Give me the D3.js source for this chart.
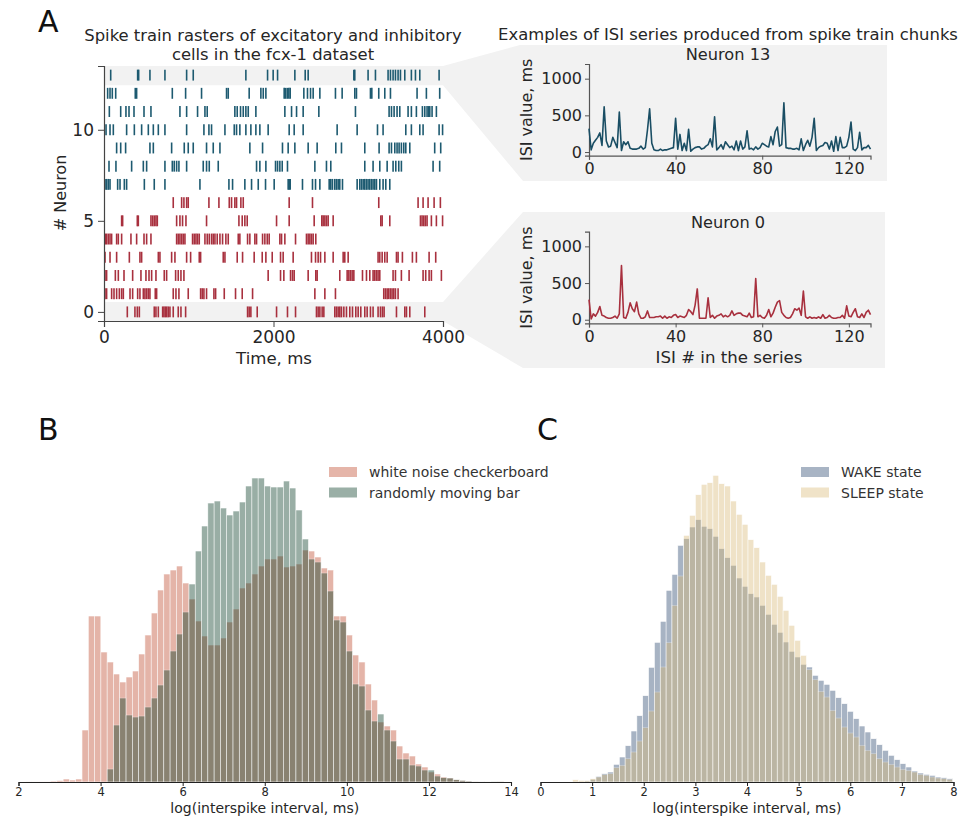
<!DOCTYPE html>
<html>
<head>
<meta charset="utf-8">
<script src="https://cdn.jsdelivr.net/npm/d3@7"></script>
<style>
  body { margin: 0; background: #fff; }
  svg { display: block; font-family: "DejaVu Sans", sans-serif; }
</style>
</head>
<body>
<div id="chart"></div>
<script>
// ---- Panel A: spike times (ms) per neuron, 0..13 ----
const spikesN0 = [275,365,393,417,593,613,641,692,707,723,739,758,778,817,876,908,963,1694,1713,1733,1808,2036,2165,2260,2507,2527,2547,2574,2594,2723,2743,2763,2782,2802,2830,2861,2900,2932,2971,2999,3030,3077,3105,3144,3175,3234,3262,3285,3305,3451,3549,3569,3608,3785];
const spikesN1 = [12,31,90,118,149,181,208,228,307,338,397,424,464,483,503,523,542,605,621,817,849,884,994,1140,1159,1179,1210,1297,1317,1419,1552,1631,1753,2488,2606,2731,3301,3321,3341,3360,3380,3399,3419,3439,3470];
const spikesN2 = [12,31,134,169,236,338,436,495,531,562,613,711,739,845,876,908,943,1937,2083,2122,2201,2224,2244,2409,2499,2515,2782,2869,2889,2908,2928,2948,3050,3097,3136,3175,3195,3215,3234,3254,3411,3439,3509,3600,3765,3796,3836,3863,3981];
const spikesN3 = [12,71,149,299,424,444,641,660,798,837,975,1022,1124,1140,1407,1427,1572,1635,1772,1867,1910,1985,2083,2114,2232,2448,2496,2527,2555,2606,2704,2822,2841,2881,3234,3254,3282,3313,3341,3451,3470,3521,3639,3686,3836,3914];
const spikesN4 = [16,31,51,71,90,149,169,208,318,385,472,503,554,857,876,896,916,935,955,1045,1065,1085,1104,1124,1191,1218,1242,1269,1289,1309,1336,1368,1399,1438,1466,1584,1603,1694,1721,1780,1800,1871,1898,1926,1949,2075,2095,2134,2260,2389,2409,2429,2448,2468,2499];
const spikesN5 = [208,220,393,405,554,574,593,613,629,857,896,927,967,1210,1592,1631,1662,1690,2036,2185,2480,2570,2586,2606,2625,2645,2704,3266,3282,3372,3734,3753,3773,3792,3812,3863,3922,3995];
const spikesN6 = [817,916,943,975,994,1238,1356,1478,1505,1544,1564,1615,1643,2185,2460,3242,3706,3765,3824,3895,3969];
const spikesN7 = [12,31,51,71,161,189,240,267,476,593,719,1132,1474,1517,1662,1741,1820,1906,2008,2173,2185,2197,2342,2460,2496,2547,2657,2676,2696,2723,2743,2763,2782,2814,2987,3018,3038,3058,3077,3097,3116,3136,3156,3175,3195,3215,3254,3293,3325,3372];
const spikesN8 = [59,141,326,464,503,719,806,829,857,884,975,1171,1210,1242,1348,1800,1839,1910,2024,2048,2075,2103,2165,2488,2625,2676,3077,3175,3254,3341,3411,3443,3478,3509,3883,3961];
const spikesN9 = [149,197,255,542,582,798,947,994,1053,1210,1289,1368,1721,1871,2106,2173,2252,2409,2515,2735,2802,3077,3246,3364,3392,3431,3458,3482,3509,3537,3561,3608,3902,3973];
const spikesN10 = [24,71,110,267,358,444,523,582,641,719,975,1179,1238,1269,1427,1537,1564,1603,1674,1733,1792,1839,1937,2185,2244,2350,2751,2987,3227,3293,3561,3627,3726,3765,3954,3995];
const spikesN11 = [63,197,259,295,354,472,554,896,975,1104,1191,1218,1544,1572,1611,1643,1674,1702,1792,2134,2213,2272,2350,2535,2967,3364,3392,3423,3458,3490,3588,3627,3686,3757,3785,3812,3832,3844,3871,3922];
const spikesN12 = [43,71,98,138,369,385,806,963,1151,1446,1466,1713,1851,1879,1910,2126,2142,2162,2181,2197,2358,2401,2437,2468,2547,2731,2810,2959,2979,3144,3160,3242,3313,3380,3694,3804,3961];
const spikesN13 = [79,397,409,542,719,975,1053,1674,1930,1996,2048,2252,2374,2409,2948,2959,3116,3203,3352,3380,3411,3439,3470,3498,3549,3627,3675,3726,3954];
const rasterRows = [spikesN0, spikesN1, spikesN2, spikesN3, spikesN4, spikesN5, spikesN6,
                    spikesN7, spikesN8, spikesN9, spikesN10, spikesN11, spikesN12, spikesN13];
const rasterTicksX = [0, 2000, 4000];
const rasterTicksY = [0, 5, 10];

// ---- ISI series (ms), index 0..130 ----
const isiNeuron13 = [320,30,120,160,200,260,90,615,150,70, 80,200,130,60,545,20,140,100,140,50,
  40,40,40,50,80,40,60,300,590,120, 30,20,20,40,20,30,30,40,50,60, 460,40,240,20,120,20,310,10,40,60,
  70,70,40,50,80,100,180,70,480,30, 60,100,40,140,100,60,80,30,150,20, 150,40,70,290,40,50,30,70,40,60,
  120,100,80,70,210,100,280,340,80,100, 670,60,50,50,40,40,50,30,180,20, 100,160,80,200,460,20,60,80,90,130,
  120,40,150,10,210,20,200,60,60,80, 200,410,40,20,60,270,30,60,60,90, 40];
const isiNeuron0 = [275,10,80,50,100,180,60,50,30,20, 20,30,50,20,80,740,30,20,100,230,
  150,110,240,80,20,20,40,120,30,30, 30,40,40,50,20,50,20,40,30,60, 70,30,50,40,30,60,140,110,70,200,
  420,20,20,20,20,300,30,60,20,50, 60,80,40,60,40,60,120,60,80,90, 90,60,50,40,90,30,40,560,40,60,
  30,20,60,140,40,90,170,240,260,100, 60,30,20,30,80,150,130,160,60,390, 40,20,40,20,30,20,40,20,70,20,
  30,60,30,20,20,30,30,60,20,190, 50,40,100,150,40,30,80,30,100,130, 70];
const isiTicksX = [0, 40, 80, 120];
const isiTicksY = [0, 500, 1000];

// ---- Panel B: log-ISI histograms (a.u.), shared bins ----
const bBinStart = 2.167, bBinWidth = 0.1533;
const whiteNoiseCheckerboard = [0.5,0.5,0.7,0.7,1,1.5,3,2,3,
  52,166,166,130,120,108,100,105,111,128, 147,169,192,208,212,216,199,183,161,146,
  137,137,144,160,173,194,199,208,216,223, 223,226,215,216,218,232,231,225,214,212,
  166,166,147,127,120,98,82,60,56,52, 36,29,26,18,15,10,8,5,4,2.3, 1.7,1,0.8,0.6,0.5,0.4,0.3];
const randomlyMovingBar = [0,0,0,0,0,0,0,0,0,0,0,0,0,
  13,57,84,67,65,66, 75,84,97,112,131,148,170,198,231,256,
  279,281,274,267,271,280,296,304,304,296, 295,295,301,294,272,243,223,220,209,191,
  162,160,131,98,96,72,61,68,52,41, 23,23,17,16,12,12,6,4.3,4,2.3, 1.7,1,0.7,0.5,0.4,0.3,0.2];
const bTicks = [2, 4, 6, 8, 10, 12, 14];

// ---- Panel C: log-ISI histograms (a.u.), shared bins ----
const cBinStart = 0.62, cBinWidth = 0.1133;
const wakeState = [0.5,0.7,1,2.7,5.7,8.3,10,17.7,25,36.3, 51,66.3,86.3,114.7,139.7,160.7,191.7,207.7,236.7,243.3,
  255,262.3,255.7,253.3,245.7,233.3,224.3,216.7,204,195.7, 188.3,185,176.7,167.7,157.7,149.7,140,130.7,125,117.7,
  115,106.7,101.7,97.7,91.7,84.3,78.3,70.7,63.3,56, 50,43.3,37.3,31.7,26.7,22.3,18.3,15,11,9, 7.7,6.7,5,4.3,3.3];
const sleepState = [2.3,1.7,1.7,3.3,5,7.3,8.3,14.3,16.7,23.3, 30,41,54.3,71,90,115,139.3,176.7,206,246.7,
  266.7,287.3,297.7,299.3,306.7,298.3,296,281,267.7,257.7, 242.3,234.3,220,206.7,197.7,185.7,171.7,156.7,141.7,126.7,
  112.3,102.3,90.7,85,71.7,64,55,49,45,36.7, 31.7,28.3,23.3,20,17.7,15,12.7,11.7,10,7.7, 6.7,5,4,3.3,2.7];
const cTicks = [0, 1, 2, 3, 4, 5, 6, 7, 8];

// colours
const teal = "#1d5a70", red = "#a8303e", panelGray = "#f2f2f2", textCol = "#262626";
const fmt = d3.format("d");

const svg = d3.select("#chart").append("svg").attr("width", 973).attr("height", 821);

// ================= Panel A =================
const xR = d3.scaleLinear().domain([0, 4000]).range([104, 443]);
const yR = d3.scaleLinear().domain([-0.5, 13.5]).range([321, 66]);

// highlight bands + connectors to the ISI panels
const bandTop = [[xR(0), yR(13.5)], [xR(4000), yR(13.5)], [520, 45], [887, 45], [887, 181], [523, 181], [xR(4000), yR(12.45)], [xR(0), yR(12.45)]];
const bandBot = [[xR(0), yR(0.55)], [xR(4000), yR(0.55)], [523, 212], [885, 212], [885, 368], [523, 368], [xR(4000), yR(-0.5)], [xR(0), yR(-0.5)]];
svg.selectAll(".band").data([bandTop, bandBot]).enter().append("polygon")
  .attr("points", d => d.map(p => p.join(",")).join(" "))
  .attr("fill", panelGray);

svg.append("text").attr("x", 38).attr("y", 32).attr("font-size", 30).attr("fill", "#111").text("A");
svg.append("text").attr("x", 273).attr("y", 41).attr("text-anchor", "middle").attr("font-size", 16.4)
  .attr("fill", textCol).text("Spike train rasters of excitatory and inhibitory");
svg.append("text").attr("x", 273).attr("y", 59.5).attr("text-anchor", "middle").attr("font-size", 16.4)
  .attr("fill", textCol).text("cells in the fcx-1 dataset");

const raster = svg.append("g");
rasterRows.forEach((row, n) => {
  raster.append("g").selectAll("line").data(row).enter().append("line")
    .attr("x1", d => xR(d)).attr("x2", d => xR(d))
    .attr("y1", yR(n + 0.3)).attr("y2", yR(n - 0.3))
    .attr("stroke", n >= 7 ? teal : red)
    .attr("stroke-width", 1.6);
});

const axR_x = svg.append("g").attr("transform", `translate(0,${yR(-0.5)})`)
  .call(d3.axisBottom(xR).tickValues(rasterTicksX).tickFormat(fmt).tickSizeOuter(0).tickSize(6).tickPadding(4));
const axR_y = svg.append("g").attr("transform", `translate(${xR(0)},0)`)
  .call(d3.axisLeft(yR).tickValues(rasterTicksY).tickFormat(fmt).tickSizeOuter(0).tickSize(6).tickPadding(4));
[axR_x, axR_y].forEach(a => {
  a.select(".domain").attr("stroke", "#444").attr("stroke-width", 1.2);
  a.selectAll(".tick line").attr("stroke", "#444");
  a.selectAll("text").attr("font-size", 17).attr("fill", textCol).attr("font-family", "DejaVu Sans");
});
svg.append("text").attr("x", 274).attr("y", 364).attr("text-anchor", "middle").attr("font-size", 16.6)
  .attr("fill", textCol).text("Time, ms");
svg.append("text").attr("transform", "translate(66,193) rotate(-90)").attr("text-anchor", "middle")
  .attr("font-size", 16).attr("fill", textCol).text("# Neuron");

// ISI series panels
svg.append("text").attr("x", 728).attr("y", 40).attr("text-anchor", "middle").attr("font-size", 16.4)
  .attr("fill", textCol).text("Examples of ISI series produced from spike train chunks");

function isiPanel(series, color, yZero, title, titleY) {
  const x = d3.scaleLinear().domain([0, 130]).range([589, 870.5]);
  const y = d3.scaleLinear().domain([-50, 1200]).range([yZero + 3.7, yZero + 3.7 - 91.7]);
  const g = svg.append("g");
  g.append("text").attr("x", 728).attr("y", titleY).attr("text-anchor", "middle").attr("font-size", 16.2)
    .attr("fill", textCol).text(title);
  const ax = g.append("g").attr("transform", `translate(0,${y(-50)})`)
    .call(d3.axisBottom(x).tickValues(isiTicksX).tickFormat(fmt).tickSizeOuter(0).tickSize(4).tickPadding(3));
  const ay = g.append("g").attr("transform", `translate(${x(0)},0)`)
    .call(d3.axisLeft(y).tickValues(isiTicksY).tickFormat(fmt).tickSizeOuter(0).tickSize(4).tickPadding(3));
  [ax, ay].forEach(a => {
    a.select(".domain").attr("stroke", "#555").attr("stroke-width", 1.2);
    a.selectAll(".tick line").attr("stroke", "#555");
    a.selectAll("text").attr("font-size", 16).attr("fill", textCol).attr("font-family", "DejaVu Sans");
  });
  g.append("text").attr("transform", `translate(532,${y(575)}) rotate(-90)`).attr("text-anchor", "middle")
    .attr("font-size", 16).attr("fill", textCol).text("ISI value, ms");
  const line = d3.line().x((d, i) => x(i)).y(d => y(d));
  g.append("path").datum(series).attr("d", line).attr("fill", "none")
    .attr("stroke", color).attr("stroke-width", 1.6).attr("stroke-linejoin", "round");
}
isiPanel(isiNeuron13, "#1a4e64", 152, "Neuron 13", 59.5);
isiPanel(isiNeuron0, red, 319.7, "Neuron 0", 227.5);
svg.append("text").attr("x", 729).attr("y", 363).attr("text-anchor", "middle")
  .attr("font-size", 16.6).attr("fill", textCol).text("ISI # in the series");

// ================= Histograms =================
function histPanel(opts) {
  const x = d3.scaleLinear().domain(opts.domain).range(opts.range);
  const y = d3.scaleLinear().domain([0, 320]).range([782, 462]);
  const g = svg.append("g");
  opts.series.forEach(s => {
    g.append("g").selectAll("rect").data(s.values).enter().append("rect")
      .attr("x", (d, i) => x(opts.start + i * opts.width))
      .attr("width", (d, i) => x(opts.start + (i + 1) * opts.width) - x(opts.start + i * opts.width))
      .attr("y", d => y(d))
      .attr("height", d => y(0) - y(d))
      .attr("fill", s.color)
      .attr("stroke", "#ffffff").attr("stroke-width", 0.6)
      .attr("opacity", s.alpha);
  });
  const ax = g.append("g").attr("transform", `translate(0,${y(0)})`)
    .call(d3.axisBottom(x).tickValues(opts.ticks).tickSizeOuter(0).tickSize(4).tickPadding(2));
  ax.select(".domain").attr("stroke", "#222").attr("stroke-width", 1.1);
  ax.selectAll(".tick line").attr("stroke", "#222");
  ax.selectAll("text").attr("font-size", 11.5).attr("fill", textCol).attr("font-family", "DejaVu Sans");
  g.append("text").attr("x", (opts.range[0] + opts.range[1]) / 2).attr("y", 813).attr("text-anchor", "middle")
    .attr("font-size", 14).attr("fill", textCol).text("log(interspike interval, ms)");
  g.append("text").attr("x", opts.letterX).attr("y", 440).attr("font-size", 30).attr("fill", "#111").text(opts.letter);
  // legend
  const lg = g.append("g").attr("transform", `translate(${opts.legendX},467)`);
  opts.series.forEach((s, i) => {
    lg.append("rect").attr("x", 0).attr("y", i * 20.5).attr("width", 28).attr("height", 10)
      .attr("fill", s.color).attr("opacity", s.alpha);
    lg.append("text").attr("x", 40).attr("y", i * 20.5 + 10).attr("font-size", 14)
      .attr("fill", "#333").text(s.name);
  });
}

histPanel({
  domain: [2, 14], range: [18.5, 511], start: bBinStart, width: bBinWidth, ticks: bTicks,
  letter: "B", letterX: 38, legendX: 329,
  series: [
    { name: "white noise checkerboard", values: whiteNoiseCheckerboard, color: "#be4628", alpha: 0.4 },
    { name: "randomly moving bar", values: randomlyMovingBar, color: "#033821", alpha: 0.4 }
  ]
});
histPanel({
  domain: [0, 8], range: [540.5, 953.5], start: cBinStart, width: cBinWidth, ticks: cTicks,
  letter: "C", letterX: 537, legendX: 801,
  series: [
    { name: "WAKE state", values: wakeState, color: "#25436b", alpha: 0.4 },
    { name: "SLEEP state", values: sleepState, color: "#d9b975", alpha: 0.4 }
  ]
});
</script>
</body>
</html>
